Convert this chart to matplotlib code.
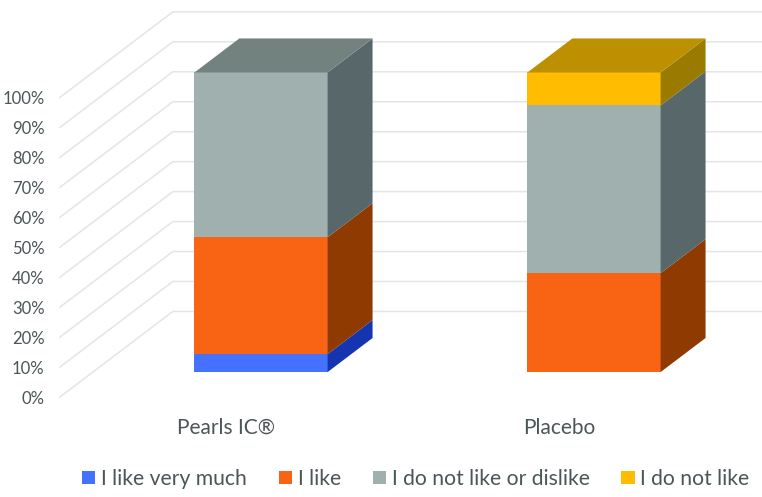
import matplotlib.pyplot as plt
from matplotlib.patches import Patch

plt.rcParams['font.family'] = ['Lato', 'DejaVu Sans']

# data
categories = ['Pearls IC®', 'Placebo']
series_names = ['I like very much', 'I like', 'I do not like or dislike', 'I do not like']
very_much = [6, 0]
like = [39, 33]
neutral = [55, 56]
dislike = [0, 11]
y_ticks = [0, 10, 20, 30, 40, 50, 60, 70, 80, 90, 100]

# colours: front, side, top
front_colors = ['#4472FF', '#F96414', '#A0B0AE', '#FFBC00']
side_colors = ['#1535B0', '#8F3A00', '#586769', '#9A7B00']
top_colors = ['#2A50D0', '#B04A10', '#72827F', '#BC9000']
grid_color = '#E2E6E6'
text_color = '#4A5658'

# oblique projection: depth 0 = bar front, depth 1 = bar back
bar_width = 0.4
depth_dx = 0.135
depth_dy = 11.37
wall_front = -0.735
wall_back = 1.78


def project(x, value, depth):
    return x + depth * depth_dx, value + depth * depth_dy


fig = plt.figure(figsize=(7.62, 4.97), dpi=100)
ax = fig.add_axes([0, 0, 1, 1])
ax.set_xlim(-261 / 333, 501 / 333)
ax.set_ylim(-41.7, 124.2)
ax.axis('off')

# side wall and back wall grid lines
wall_x = -0.505
for v in y_ticks:
    x0, y0 = project(wall_x, v, wall_front)
    x1, y1 = project(wall_x, v, wall_back)
    ax.plot([x0, x1, ax.get_xlim()[1]], [y0, y1, y1], color=grid_color, lw=1.1, zorder=1,
            solid_joinstyle='miter')
    ax.text(x0 - 0.046, y0 - 0.6, f'{v}%', ha='right', va='center', fontsize=12, color=text_color)

# stacked bars
series = [very_much, like, neutral, dislike]
for i, name in enumerate(categories):
    left = i - bar_width / 2
    right = i + bar_width / 2
    bottom = 0
    values = [s[i] for s in series]
    last = max(k for k, v in enumerate(values) if v > 0)
    for k, v in enumerate(values):
        if v == 0:
            continue
        top = bottom + v
        ax.fill([left, right, right, left], [bottom, bottom, top, top],
                color=front_colors[k], lw=0, zorder=3)
        bx, by = project(right, bottom, 1)
        tx, ty = project(right, top, 1)
        ax.fill([right, bx, tx, right], [bottom, by, ty, top],
                color=side_colors[k], lw=0, zorder=3)
        if k == last:
            lx, ly = project(left, top, 1)
            ax.fill([left, right, tx, lx], [top, top, ty, ly],
                    color=top_colors[k], lw=0, zorder=3)
        bottom = top
    lab_x, _ = project(i, 0, wall_front)
    ax.text(lab_x - 0.005, -18.7, name, ha='center', va='center', fontsize=15, color=text_color)

handles = [Patch(facecolor=c, edgecolor='none', label=n) for c, n in zip(front_colors, series_names)]
fig.legend(handles=handles, ncol=4, loc='center', bbox_to_anchor=(416 / 762, 1 - 479 / 497),
           frameon=False, fontsize=15.2, labelcolor=text_color, handlelength=0.62, handleheight=0.62,
           handletextpad=0.28, columnspacing=1.5, borderpad=0)

fig.savefig('out.png', dpi=100)
